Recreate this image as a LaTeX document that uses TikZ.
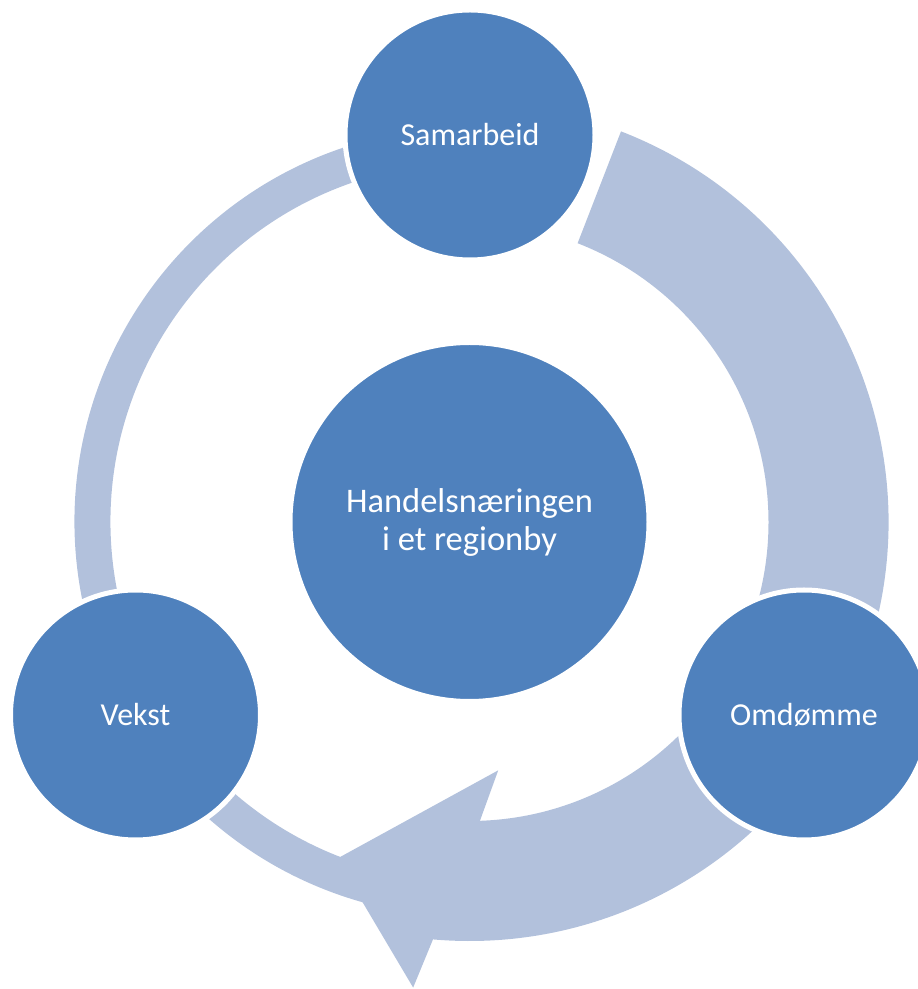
\documentclass[tikz,border=0pt]{standalone}
\usepackage{fontspec}
\setmainfont{Carlito}
\usetikzlibrary{calc}
\definecolor{nodeblue}{HTML}{4F81BD}
\definecolor{ringblue}{HTML}{B2C1DC}
\tikzset{
  bubble/.style={circle,fill=nodeblue,draw=white,line width=5pt,text=white,inner sep=0pt,
    minimum size=250pt,font=\fontsize{32}{38}\selectfont}
}

\begin{document}
\begin{tikzpicture}[x=1pt,y=1pt]
\clip (0,0) rectangle (918,989);
\coordinate (hub) at (469.5,467);
\draw[ringblue,line width=36pt] ($(hub)+(100:377)$) arc[start angle=100,end angle=255,radius=377];
\fill[ringblue] ($(hub)+(68.8:419)$) arc[start angle=68.8,end angle=-95,radius=419]
  -- ($(hub)+(-96.9:469)$) -- ($(hub)+(-111.5:362)$) -- ($(hub)+(-83.4:250)$)
  -- ($(hub)+(-88:299)$) arc[start angle=-88,end angle=68.8,radius=299] -- cycle;
\node[bubble,minimum size=359pt,align=center,font=\fontsize{34.5}{38}\selectfont] (centre) at (hub) {Handelsnæringen\\i et regionby};
\node[bubble] (samarbeid) at (470,854) {Samarbeid};
\node[bubble] (vekst) at (135.5,274) {Vekst};
\node[bubble] (omdomme) at (804,274) {Omdømme};
\end{tikzpicture}
\end{document}
